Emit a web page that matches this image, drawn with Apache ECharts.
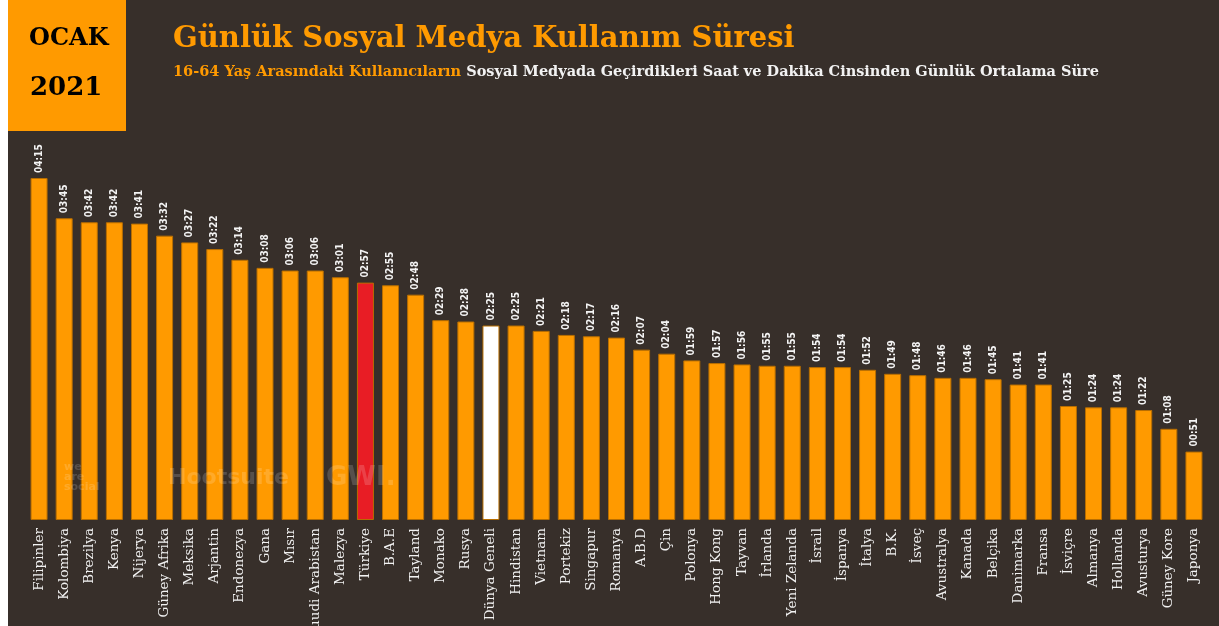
<!DOCTYPE html>
<html>
<head>
<meta charset="utf-8">
<script src="https://cdn.jsdelivr.net/npm/echarts@6/dist/echarts.min.js"></script>
<style>
html,body{margin:0;padding:0;background:#fff;}
#c{position:absolute;left:8px;top:0;width:1211px;height:626px;}
</style>
</head>
<body>
<div id="c"></div>
<script>
const categories = ["Filipinler","Kolombiya","Brezilya","Kenya","Nijerya","Güney Afrika","Meksika","Arjantin","Endonezya","Gana","Mısır","Suudi Arabistan","Malezya","Türkiye","B.A.E","Tayland","Monako","Rusya","Dünya Geneli","Hindistan","Vietnam","Portekiz","Singapur","Romanya","A.B.D","Çin","Polonya","Hong Kong","Tayvan","İrlanda","Yeni Zelanda","İsrail","İspanya","İtalya","B.K.","İsveç","Avustralya","Kanada","Belçika","Danimarka","Fransa","İsviçre","Almanya","Hollanda","Avusturya","Güney Kore","Japonya"];
// daily time in minutes
const minutes = [255,225,222,222,221,212,207,202,194,188,186,186,181,177,175,168,149,148,145,145,141,138,137,136,127,124,119,117,116,115,115,114,114,112,109,108,106,106,105,101,101,85,84,84,82,68,51];
const highlightRed = "Türkiye";
const highlightWhite = "Dünya Geneli";
const titleText = "Günlük Sosyal Medya Kullanım Süresi";
const subtitleOrange = "16-64 Yaş Arasındaki Kullanıcıların";
const subtitleWhite = " Sosyal Medyada Geçirdikleri Saat ve Dakika Cinsinden Günlük Ortalama Süre";

const ORANGE = "#ff9a00";
const BG = "#372f2a";
function fmt(m){const h=Math.floor(m/60), mm=m%60; return String(h).padStart(2,"0")+":"+String(mm).padStart(2,"0");}

const chart = echarts.init(document.getElementById("c"), null, {renderer:"canvas"});
const data = minutes.map((v,i)=>{
  let color = ORANGE;
  if (categories[i]===highlightRed) color = "#e81d25";
  if (categories[i]===highlightWhite) color = "#ffffff";
  return {value:v, itemStyle:{color:color}};
});
chart.setOption({
  backgroundColor: BG,
  animation:false,
  grid:{left:18.5, right:12.5, top:178, bottom:106, containLabel:false, outerBoundsMode:"none"},
  xAxis:{type:"category", data:categories,
    axisLine:{show:false}, axisTick:{show:false},
    axisLabel:{rotate:90, interval:0, color:"#f2f2f2", fontFamily:"DejaVu Serif", fontSize:13.5, margin:8}},
  yAxis:{type:"value", min:0, max:255, show:false, splitLine:{show:false}},
  series:[{type:"bar", data:data, barWidth:17,
    itemStyle:{borderColor:"#b86e00", borderWidth:1},
    label:{show:true, position:"top", rotate:90, align:"left", verticalAlign:"middle", distance:5,
      color:"#f4f4f4", fontFamily:"'DejaVu Sans Condensed', 'Roboto Condensed', 'DejaVu Sans'", fontWeight:"bold", fontSize:10,
      formatter:p=>fmt(p.value)}}],
  graphic:[
    {type:"rect", left:0, top:0, z:100, shape:{width:118, height:131}, style:{fill:ORANGE}},
    {type:"text", left:21, top:27, z:101, style:{text:"OCAK", fill:"#000", font:"bold 24px 'DejaVu Serif'"}},
    {type:"text", left:22, top:75, z:101, style:{text:"2021", fill:"#000", font:"bold 26px 'DejaVu Serif'"}},
    {type:"text", left:165, top:25, z:101, style:{text:titleText, fill:ORANGE, font:"bold 29px 'DejaVu Serif'"}},
    {type:"text", left:165, top:65, z:101, style:{
      text:"{o|"+subtitleOrange+"}{w|"+subtitleWhite+"}",
      rich:{o:{fill:ORANGE, font:"bold 14.5px 'DejaVu Serif'"}, w:{fill:"#f2f2f2", font:"bold 14.5px 'DejaVu Serif'"}}}},
    {type:"text", left:56, top:462, z:101, style:{text:"we\nare\nsocial", fill:"rgba(255,255,255,0.16)", font:"bold 11px 'DejaVu Sans'", lineHeight:10}},
    {type:"text", left:160, top:467, z:101, style:{text:"Hootsuite", fill:"rgba(255,255,255,0.16)", font:"bold 22px 'DejaVu Sans'"}},
    {type:"text", left:318, top:465, z:101, style:{text:"GWI.", fill:"rgba(255,255,255,0.16)", font:"bold 26px 'DejaVu Sans'"}}
  ]
});
</script>
</body>
</html>
